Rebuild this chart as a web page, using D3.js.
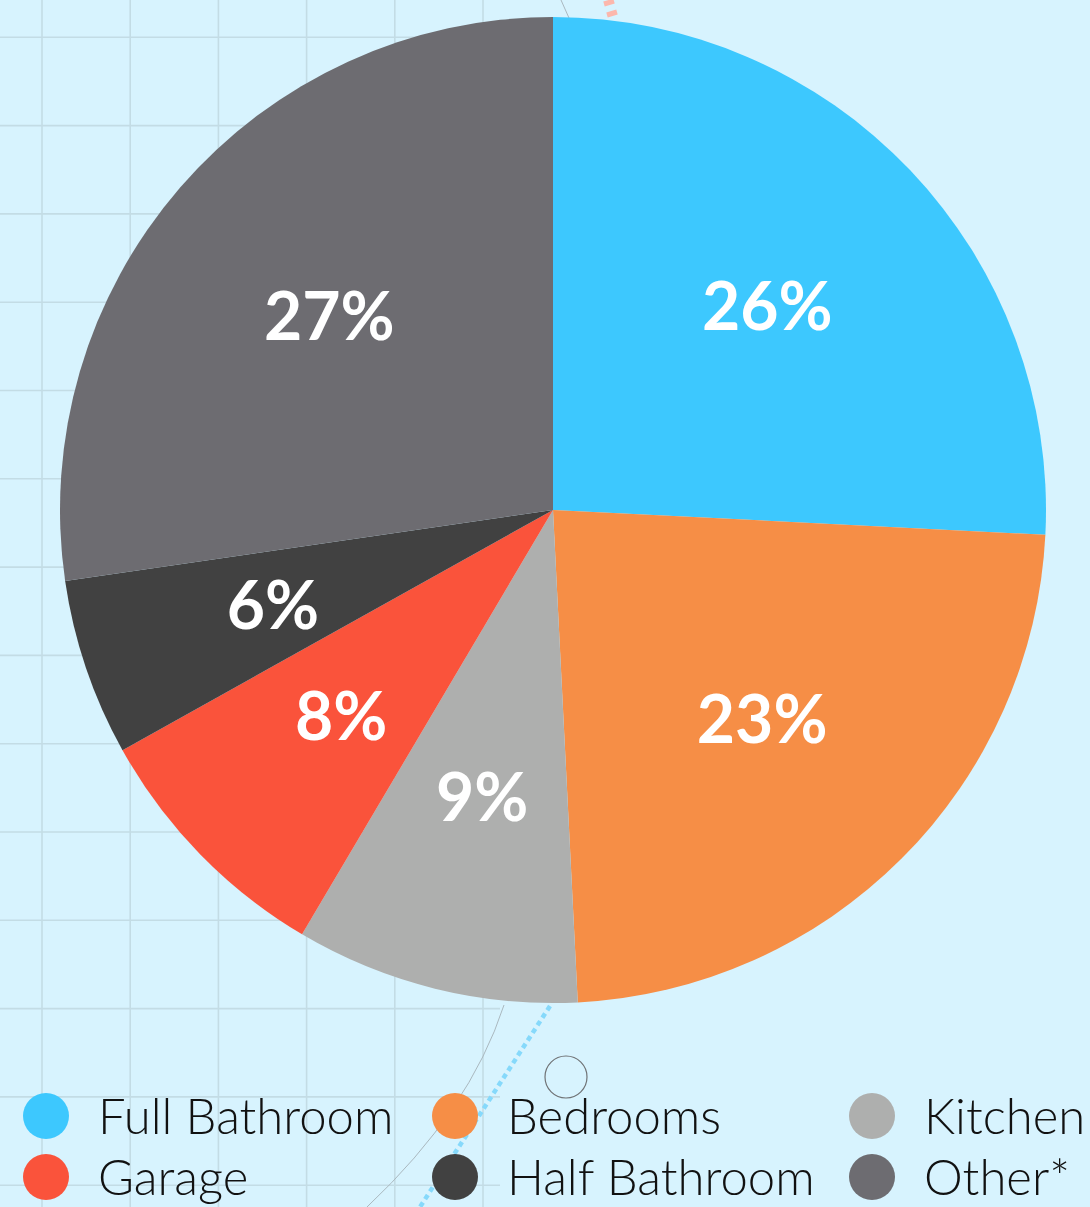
<!DOCTYPE html>
<html>
<head>
<meta charset="utf-8">
<script src="https://cdn.jsdelivr.net/npm/d3@7"></script>
<style>
  html, body { margin: 0; padding: 0; background: #d7f3fe; }
  svg { display: block; }
</style>
</head>
<body>
<svg id="chart" width="1090" height="1207"></svg>
<script>
// ---- data ----
const categories = ["Full Bathroom", "Bedrooms", "Kitchen", "Garage", "Half Bathroom", "Other*"];
const shares = [25.8, 23.4, 9.3, 8.4, 5.8, 27.3];
const sliceColors = ["#3dc8fe", "#f68e46", "#aeafae", "#fa533b", "#414141", "#6d6c71"];

// ---- layout ----
const W = 1090, H = 1207;
const cx = 553, cy = 510, R = 493;
const svg = d3.select("#chart");

svg.append("rect").attr("width", W).attr("height", H).attr("fill", "#d7f3fe");

// background grid (left part)
const grid = svg.append("g").attr("stroke", "#c3dce5").attr("stroke-width", 1.6);
const gx = d3.range(42, 500, 88.2);
const gy = d3.range(37.3, H, 88.3);
grid.selectAll("line.v").data(gx).join("line")
  .attr("x1", d => d).attr("x2", d => d).attr("y1", 0).attr("y2", H);
grid.selectAll("line.h").data(gy).join("line")
  .attr("x1", 0).attr("x2", 500).attr("y1", d => d).attr("y2", d => d);

// decorative bits
const deco = svg.append("g").attr("fill", "none");
deco.append("path").attr("d", "M561,0 L569,18").attr("stroke", "#aab8bf").attr("stroke-width", 1);
deco.append("path").attr("d", "M504,1005 Q470,1110 367,1207").attr("stroke", "#aab8bf").attr("stroke-width", 1);
deco.append("path").attr("d", "M550,1006 L420,1207").attr("stroke", "#86d9fb")
  .attr("stroke-width", 4.5).attr("stroke-dasharray", "5,4");
deco.append("path").attr("d", "M604,4 L614,1 M607,15 L617,12").attr("stroke", "#fcb7ac").attr("stroke-width", 5);
deco.append("circle").attr("cx", 566).attr("cy", 1077).attr("r", 21)
  .attr("stroke", "#6f7275").attr("stroke-width", 1.2);

// pie
const pie = d3.pie().sort(null).value(d => d.v);
const data = categories.map((c, i) => ({ name: c, v: shares[i], color: sliceColors[i] }));
const arcs = pie(data);
const arc = d3.arc().innerRadius(0).outerRadius(R);
const labelArc = d3.arc().innerRadius(R * 0.6).outerRadius(R * 0.6);

const g = svg.append("g").attr("transform", `translate(${cx},${cy})`);
g.selectAll("path.slice").data(arcs).join("path")
  .attr("class", "slice")
  .attr("d", arc)
  .attr("fill", d => d.data.color);

g.selectAll("text.lab").data(arcs).join("text")
  .attr("class", "lab")
  .attr("transform", d => `translate(${labelArc.centroid(d)})`)
  .attr("text-anchor", "middle")
  .attr("dy", "0.36em")
  .attr("fill", "#ffffff")
  .style("font-family", "Lato, 'Open Sans', sans-serif")
  .style("font-weight", 700)
  .style("font-size", "66px")
  .text(d => Math.round(d.data.v) + "%");

// legend
const colX = [46, 455, 872];
const rowY = [1116, 1177];
const leg = svg.append("g");
const items = leg.selectAll("g.item").data(data).join("g")
  .attr("class", "item")
  .attr("transform", (d, i) => `translate(${colX[i % 3]},${rowY[Math.floor(i / 3)]})`);
items.append("circle").attr("r", 23).attr("fill", d => d.color);
items.append("text")
  .attr("x", 52)
  .attr("dy", "0.36em")
  .attr("fill", "#111111")
  .style("font-family", "Lato, 'Open Sans', sans-serif")
  .style("font-weight", 300)
  .style("font-size", "49px")
  .text(d => d.name);
</script>
</body>
</html>
